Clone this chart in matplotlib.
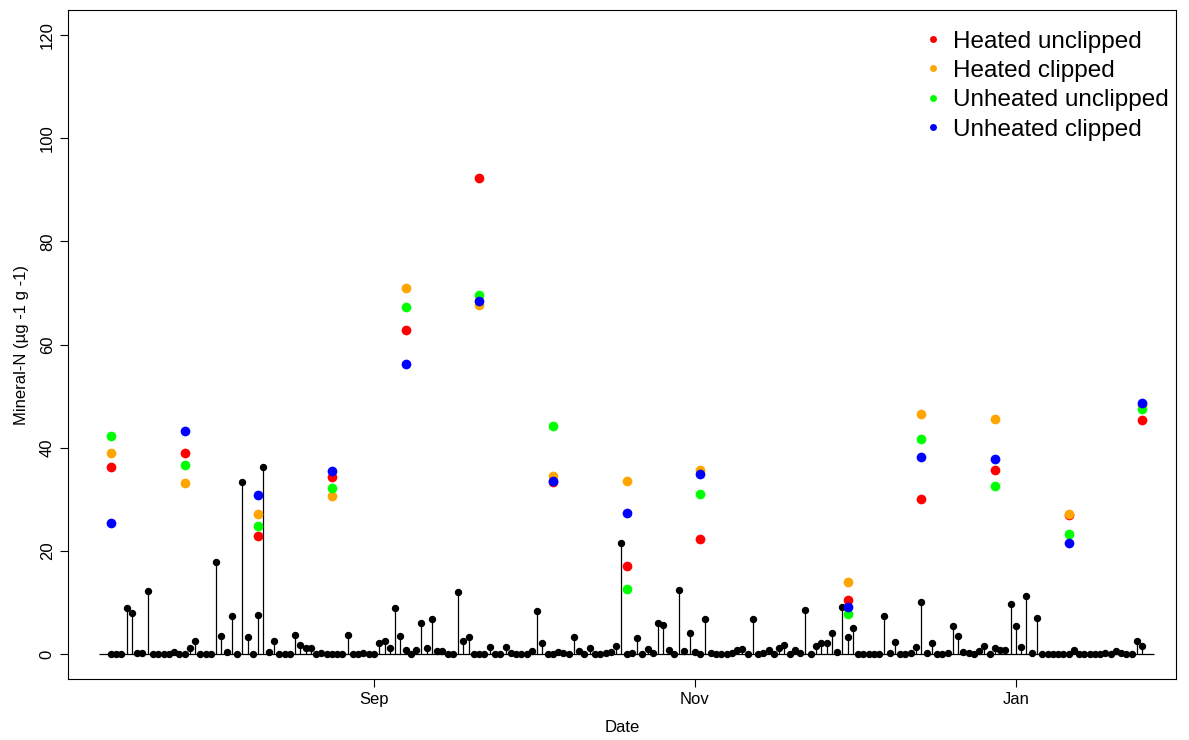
import numpy as np
import pandas as pd
import matplotlib.pyplot as plt
import matplotlib.dates as mdates
from matplotlib.lines import Line2D

plt.rcParams['font.family'] = ['Liberation Sans', 'DejaVu Sans']

# daily series (black stems)
start_date = '2019-07-13'
daily = [0, 0, 0, 9.0, 8.0, 0.3, 0.3, 12.3, 0, 0, 0, 0, 0.5, 0, 0, 1.2,
         2.6, 0, 0, 0, 17.9, 3.5, 0.5, 7.5, 0, 33.3, 3.3, 0, 7.6, 36.2, 0.5, 2.6,
         0, 0, 0, 3.7, 1.8, 1.2, 1.3, 0, 0.3, 0, 0, 0, 0, 3.7, 0, 0,
         0.3, 0, 0, 2.2, 2.6, 1.2, 9.0, 3.5, 0.8, 0, 0.8, 6.1, 1.2, 6.9, 0.6, 0.6,
         0, 0, 12.1, 2.6, 3.4, 0, 0, 0, 1.4, 0, 0, 1.4, 0.3, 0, 0, 0,
         0.6, 8.4, 2.1, 0, 0, 0.5, 0.3, 0, 3.4, 0.6, 0, 1.3, 0, 0, 0.3, 0.5,
         1.6, 21.6, 0, 0.3, 3.2, 0, 1.0, 0.3, 6.1, 5.7, 0.9, 0, 12.5, 0.6, 4.1, 0.5,
         0, 6.9, 0.3, 0, 0, 0, 0.3, 0.8, 1.0, 0, 6.9, 0, 0.3, 0.9, 0, 1.3,
         1.8, 0, 0.9, 0.3, 8.6, 0, 1.6, 2.1, 2.1, 4.1, 0.5, 9.2, 3.4, 5.0, 0, 0,
         0, 0, 0, 7.5, 0.3, 2.3, 0, 0, 0.3, 1.4, 10.2, 0.3, 2.1, 0, 0, 0.3,
         5.4, 3.6, 0.5, 0.3, 0, 0.6, 1.6, 0, 1.3, 0.9, 0.9, 9.8, 5.4, 1.4, 11.2, 0.3,
         7.1, 0, 0, 0, 0, 0, 0, 0.9, 0, 0, 0, 0, 0, 0.3, 0, 0.6,
         0.3, 0, 0, 2.5, 1.6]
days = pd.date_range(start_date, periods=len(daily), freq='D')

# sampling dates (coloured points)
samp_dates = pd.to_datetime(['2019-07-13', '2019-07-27', '2019-08-10', '2019-08-24',
                             '2019-09-07', '2019-09-21', '2019-10-05', '2019-10-19',
                             '2019-11-02', '2019-11-30', '2019-12-14', '2019-12-28',
                             '2020-01-11', '2020-01-25'])
heated_unclipped = [36.2, 39.0, 23.0, 34.3, 62.9, 92.3, 33.3, 17.0, 22.3, 10.6, 30.1, 35.7, 27.0, 45.3]
heated_clipped = [39.0, 33.2, 27.1, 30.6, 71.0, 67.7, 34.5, 33.5, 35.6, 14.0, 46.6, 45.6, 27.2, 48.2]
unheated_unclipped = [42.3, 36.6, 24.9, 32.2, 67.2, 69.5, 44.2, 12.6, 31.0, 7.7, 41.7, 32.6, 23.3, 47.5]
unheated_clipped = [25.4, 43.3, 30.8, 35.5, 56.2, 68.5, 33.5, 27.4, 35.0, 9.2, 38.2, 37.8, 21.6, 48.6]

series = [('Heated unclipped', heated_unclipped, '#FF0000'),
          ('Heated clipped', heated_clipped, '#FFA500'),
          ('Unheated unclipped', unheated_unclipped, '#00FF00'),
          ('Unheated clipped', unheated_clipped, '#0000FF')]

fig = plt.figure(figsize=(11.89, 7.40), dpi=100)
ax = fig.add_axes([0.0572, 0.0824, 0.9318, 0.9041])

# stems + baseline
ax.vlines(days, 0, daily, color='black', lw=0.9)
ax.plot(days, daily, 'o', color='black', ms=4.3, zorder=3)
ax.hlines(0, days[0] - pd.Timedelta(days=2.3), days[-1] + pd.Timedelta(days=2.3),
          color='black', lw=0.9)

for name, vals, col in series:
    ax.plot(samp_dates, vals, 'o', color=col, ms=7, mec='none', zorder=4)

ax.set_xlim(days[0] - pd.Timedelta(days=8.15), days[-1] + pd.Timedelta(days=6.4))
ax.set_ylim(-4.8, 124.8)
ax.set_yticks([0, 20, 40, 60, 80, 100, 120])
ax.xaxis.set_major_locator(mdates.MonthLocator(bymonth=[9, 11, 1]))
ax.xaxis.set_major_formatter(mdates.DateFormatter('%b'))
ax.tick_params(axis='both', labelsize=12, length=6, width=0.8, direction='out')
for lbl in ax.get_yticklabels():
    lbl.set_rotation(90)
    lbl.set_va('center')
ax.set_xlabel('Date', fontsize=12, labelpad=9)
ax.set_ylabel('Mineral-N (µg -1 g -1)', fontsize=12, labelpad=8)
for sp in ax.spines.values():
    sp.set_linewidth(0.8)

handles = [Line2D([], [], marker='o', ls='none', color=c, ms=5, mec='none', label=n)
           for n, v, c in series]
ax.legend(handles=handles, loc='upper left', bbox_to_anchor=(0.751, 1.0), frameon=False,
          fontsize=17.5, handletextpad=0.32, labelspacing=0.3, handlelength=1.0,
          borderaxespad=0.45)

fig.savefig('out.png', dpi=100)
